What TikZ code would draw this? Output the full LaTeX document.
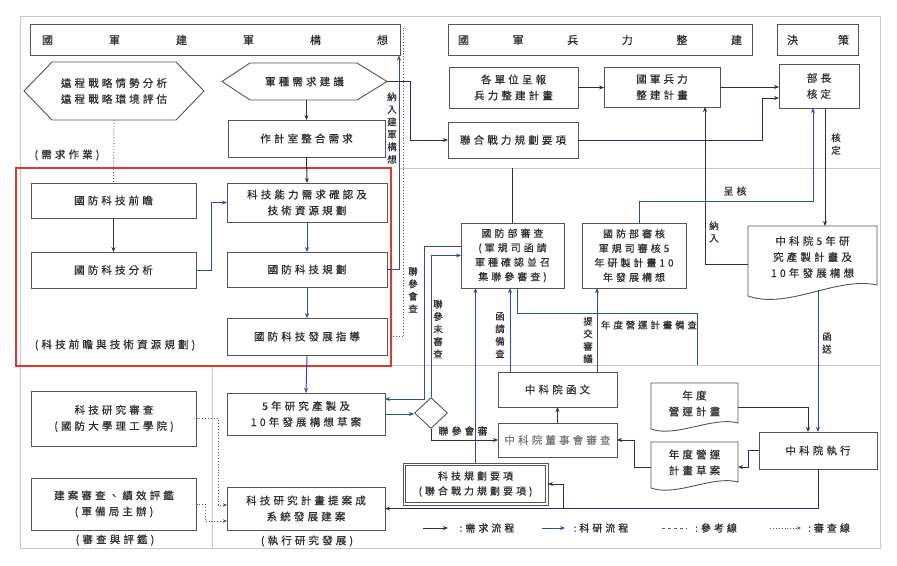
\documentclass[tikz,border=0pt]{standalone}
\usepackage{fontspec}
\newfontfamily\cjk[LetterSpace=30,FakeBold=0.6]{Noto Sans CJK TC}
\newfontfamily\cjkn[FakeBold=0.6]{Noto Sans CJK TC}
\usetikzlibrary{arrows.meta,shapes.geometric,calc}
\definecolor{ink}{HTML}{303030}
\definecolor{bx}{HTML}{555555}
\definecolor{nv}{HTML}{2B3148}
\definecolor{bl}{HTML}{2F4C94}
\definecolor{rd}{HTML}{E2372D}
\definecolor{fr}{HTML}{C8C8C8}
\tikzset{
  txt/.style={font=\fontsize{10.5}{16}\selectfont\cjk, text=ink, align=center, inner sep=0pt, outer sep=0pt},
  box/.style={txt, draw=bx, line width=0.9pt, fill=white},
  shp/.style={txt},
  shpline/.style={draw=bx, line width=0.9pt},
  vlab/.style={font=\fontsize{9.5}{12.5}\selectfont\cjkn, text=ink, align=center, inner sep=0pt},
  lab/.style={txt},
  hdr/.style={box, font=\fontsize{11}{14}\selectfont\cjkn, minimum height=31pt},
  fl/.style={draw=nv, line width=1pt, -{Stealth[length=5pt,width=4pt]}},
  fb/.style={draw=bl, line width=1pt, -{Stealth[length=5pt,width=4pt]}},
  ln/.style={draw=nv, line width=1pt},
  lb/.style={draw=bl, line width=1pt},
  rv/.style={draw=nv!80, line width=0.9pt, dotted, -{Stealth[length=4pt,width=3.5pt]}},
  rf/.style={draw=nv!80, line width=0.9pt, dotted},
  divl/.style={draw=fr, line width=0.7pt},
}
\begin{document}
\begin{tikzpicture}[x=1pt,y=-1pt]
\useasboundingbox (0,0) rectangle (897,565);
\fill[white] (0,0) rectangle (897,565);
% frame and dividers
\draw[divl] (20,16) rectangle (880,548);
\draw[divl] (400,168) -- (880,168);
\draw[divl] (20,365) -- (880,365);
\draw[divl] (212,367) -- (212,548);
\draw[rd, line width=2pt] (16,168) rectangle (391,366);

% headers
\node[hdr, minimum width=370pt, text width=346pt] (h1) at (215,40) {國\hfill 軍\hfill 建\hfill 軍\hfill 構\hfill 想};
\node[hdr, minimum width=304pt, text width=284pt] (h2) at (600,40) {國\hfill 軍\hfill 兵\hfill 力\hfill 整\hfill 建};
\node[hdr, minimum width=81pt, text width=62pt] (h3) at (818,40) {決\hfill 策};

% left column nodes
\node[shp, minimum width=180pt, minimum height=58pt] (hex1) at (114,91) {遠程戰略情勢分析\\遠程戰略環境評估};
\draw[shpline] (hex1.west) -- ($(hex1.north west)+(28,0)$) -- ($(hex1.north east)+(-28,0)$) -- (hex1.east) -- ($(hex1.south east)+(-28,0)$) -- ($(hex1.south west)+(28,0)$) -- cycle;
\node[shp, minimum width=165pt, minimum height=37pt] (hex2) at (304.5,81.5) {軍種需求建議};
\draw[shpline] (hex2.west) -- ($(hex2.north west)+(28,0)$) -- ($(hex2.north east)+(-30,0)$) -- (hex2.east) -- ($(hex2.south east)+(-30,0)$) -- ($(hex2.south west)+(28,0)$) -- cycle;
\node[box, minimum width=157pt, minimum height=37pt] (zuoji) at (306.5,138.5) {作計室整合需求};
\node[box, minimum width=165pt, minimum height=35pt] (qianzhan) at (113.5,200.5) {國防科技前瞻};
\node[box, minimum width=165pt, minimum height=36pt] (fenxi) at (113.5,270) {國防科技分析};
\node[box, minimum width=160pt, minimum height=39pt] (nengli) at (307,202.5) {科技能力需求確認及\\技術資源規劃};
\node[box, minimum width=160pt, minimum height=35pt] (guihua) at (307,269.5) {國防科技規劃};
\node[box, minimum width=160pt, minimum height=37pt] (zhidao) at (307,336.5) {國防科技發展指導};
\node[box, minimum width=158pt, minimum height=42pt] (draft5) at (306,414) {5年研究產製及\\10年發展構想草案};
\node[box, minimum width=165pt, minimum height=55pt] (kyjs) at (114,418.5) {科技研究審查\\(國防大學理工學院)};
\node[box, minimum width=165pt, minimum height=52pt] (jianan) at (114,504) {建案審查、績效評鑑\\(軍備局主辦)};
\node[box, minimum width=158pt, minimum height=43pt] (jihua) at (306,508.5) {科技研究計畫提案成\\系統發展建案};

% right part nodes
\node[box, minimum width=129pt, minimum height=41pt] (geding) at (513.5,87.5) {各單位呈報\\兵力整建計畫};
\node[box, minimum width=116pt, minimum height=40pt] (bingli) at (662,87) {國軍兵力\\整建計畫};
\node[box, minimum width=80pt, minimum height=44pt] (buzhang) at (819,86) {部長\\核定};
\node[box, minimum width=130pt, minimum height=36pt] (lianhe) at (513,140) {聯合戰力規劃要項};
\node[box, minimum width=103pt, minimum height=65pt, font=\fontsize{10}{14.5}\selectfont\cjk] (shencha) at (512.5,255.5) {國防部審查\\(軍規司函請\\軍種確認並召\\集聯參審查)};
\node[box, minimum width=104pt, minimum height=65pt, font=\fontsize{10}{14.5}\selectfont\cjk] (shenhe) at (634,255.5) {國防部審核\\軍規司審核5\\年研製計畫10\\年發展構想};
\node[shp, minimum width=129pt, minimum height=62pt] (zky5) at (812.5,257) {中科院5年研\\究產製計畫及\\10年發展構想};
\draw[shpline] (zky5.north west) -- (zky5.north east) -- ($(zky5.south east)+(0,-3)$) .. controls ($(zky5.south east)+(-40,-12)$) and ($(zky5.south west)+(40,22)$) .. ($(zky5.south west)+(0,8)$) -- cycle;
\node[box, minimum width=119pt, minimum height=35pt] (hanwen) at (557.5,389.5) {中科院函文};
\node[box, minimum width=119pt, minimum height=34pt, text=ink!65] (dongshi) at (557.5,440) {中科院董事會審查};
\node[shp, minimum width=87pt, minimum height=41pt] (yingyun) at (694.5,403.5) {年度\\營運計畫};
\draw[shpline] (yingyun.north west) -- (yingyun.north east) -- ($(yingyun.south east)+(0,-1)$) .. controls ($(yingyun.south east)+(-25,-8)$) and ($(yingyun.south west)+(25,14)$) .. ($(yingyun.south west)+(0,5)$) -- cycle;
\node[shp, minimum width=87pt, minimum height=41pt] (caoan) at (694.5,462.5) {年度營運\\計畫草案};
\draw[shpline] (caoan.north west) -- (caoan.north east) -- ($(caoan.south east)+(0,-1)$) .. controls ($(caoan.south east)+(-25,-8)$) and ($(caoan.south west)+(25,14)$) .. ($(caoan.south west)+(0,5)$) -- cycle;
\node[box, minimum width=118pt, minimum height=37pt] (zhixing) at (818,450.5) {中科院執行};
\node[box, minimum width=145pt, minimum height=42pt, font=\fontsize{10}{15}\selectfont\cjk] (kjyx) at (475.5,484) {科技規劃要項\\(聯合戰力規劃要項)};
\draw[shpline, line width=0.7pt] ($(kjyx.north west)+(2.5,2.5)$) rectangle ($(kjyx.south east)+(-2.5,-2.5)$);
\node[diamond, draw=bx, line width=0.9pt, fill=white, minimum width=33pt, minimum height=31pt, inner sep=0pt] (dia) at (431,413) {};

% labels
\node[lab] (lxq) at (67,155) {(需求作業)};
\node[lab] (lqz) at (115,345) {(科技前瞻與技術資源規劃)};
\node[lab] (lsp) at (115,540) {(審查與評鑑)};
\node[lab] (lzx) at (307,541) {(執行研究發展)};
\node[vlab] (v1) at (392,128) {納\\入\\建\\軍\\構\\想};
\node[vlab] (v2) at (413,290) {聯\\參\\會\\查};
\node[vlab] (v3) at (438,329) {聯\\參\\未\\審\\查};
\node[vlab] (v4) at (500,335) {函\\請\\備\\查};
\node[vlab] (v5) at (588,340) {提\\交\\審\\議};
\node[vlab] (v6) at (714,232) {納\\入};
\node[vlab] (v7) at (836,144) {核\\定};
\node[vlab] (v8) at (827,343) {函\\送};
\node[lab, font=\fontsize{10}{12}\selectfont\cjk] (l1) at (735,191) {呈核};
\node[lab, font=\fontsize{9.5}{12}\selectfont\cjk] (l2) at (649,325) {年度營運計畫備查};
\node[lab, font=\fontsize{10}{12}\selectfont\cjk] (l3) at (463,431) {聯參會審};

% connectors: top left
\draw[fl] (zuoji.north |- hex2.south) -- (zuoji.north);
\draw[fl] (zuoji.south) -- (nengli.north);
\draw[fb] (nengli.south) -- (guihua.north);
\draw[fb] (guihua.south) -- (zhidao.north);
\draw[fb] (zhidao.south) -- (draft5.north);
\draw[fl] (qianzhan.south) -- (fenxi.north);
\draw[fb] (fenxi.east) -- ++(15,0) |- (nengli.west);
\draw[rf] (hex1.south) -- (qianzhan.north);
\draw[fb] (guihua.east) -| ([xshift=-1pt]h1.south east);
\coordinate (dtop) at (403.5,28);
\draw[rf] (zhidao.east) -| (dtop);
\draw[fl] (hex2.east) -- ++(23,0) |- (lianhe.west);

% top right
\draw[fl] (geding.east) -- (geding.east -| bingli.west);
\draw[fl] (bingli.east) -- (bingli.east -| buzhang.west);
\draw[fl] (lianhe.east) -| (762,98) -- ([yshift=-12pt]buzhang.west);
\draw[fl] ([yshift=-7pt]zky5.west) -| ([xshift=43pt]bingli.south);
\draw[fb] ([xshift=5pt]shenhe.north) |- (813,201) -- ([xshift=-6pt]buzhang.south);
\draw[fl] ([xshift=6pt]buzhang.south) -- ++(0,118);
\coordinate (divtop) at (512.5,168);
\draw[ln] (divtop) -- (shencha.north);

% middle
\draw[fb] ([yshift=9.5pt]shencha.west) -| (424,399) -- ([yshift=15pt]draft5.east);
\draw[fb] (dia.north) |- (shencha.west);
\draw[fb] (draft5.east) -- (draft5.east -| dia.west);
\draw[fl] (dia.south) |- (dongshi.west);
\draw[fb] (kjyx.north) -- (kjyx.north |- shencha.south);
\draw[fb] ([xshift=-47.5pt]hanwen.north) -- ++(0,-84);
\draw[fb] ([xshift=39.5pt]hanwen.north) -- ++(0,-84);
\coordinate (yyend) at (697,365);
\draw[lb] ([xshift=4.5pt]shencha.south) -- ++(0,25) -| (yyend);
\draw[fl] (dongshi.north) -- (hanwen.south);
\draw[fl] ([yshift=-3.5pt]yingyun.east) -| ([xshift=-10pt]zhixing.north);
\draw[fb] ([xshift=5.5pt,yshift=-2pt]zky5.south) -- (zhixing.north);
\draw[fl] (zhixing.west) -| (748,467) -- ([yshift=-4.5pt]caoan.east);
\draw[fl] ([yshift=-4.5pt]caoan.west) -| (634,440) -- (dongshi.east);
\draw[fl] (zhixing.south) |- (jihua.east);
\coordinate (br) at (563,508.5);
\draw[fl] (br) |- (kjyx.east);
\draw[rv] (kyjs.east) -| (218,505) -- ([yshift=3.5pt]jihua.west);
\draw[rv] (jianan.east) -| (205,521) -- ([yshift=-12.5pt]jihua.west);

% legend
\coordinate (g1a) at (423,528); \coordinate (g1b) at (448,528);
\draw[fl] (g1a) -- (g1b);
\node[lab, font=\fontsize{10}{12}\selectfont\cjk] (g1t) at (487,528) {:需求流程};
\coordinate (g2a) at (542,528); \coordinate (g2b) at (565,528);
\draw[fb] (g2a) -- (g2b);
\node[lab, font=\fontsize{10}{12}\selectfont\cjk] (g2t) at (601,528) {:科研流程};
\coordinate (g3a) at (662,528); \coordinate (g3b) at (687,528);
\draw[draw=nv!80, line width=0.9pt, dashed] (g3a) -- (g3b);
\node[lab, font=\fontsize{10}{12}\selectfont\cjk] (g3t) at (716,528) {:參考線};
\coordinate (g4a) at (770,528); \coordinate (g4b) at (801,528);
\draw[rv] (g4a) -- (g4b);
\node[lab, font=\fontsize{10}{12}\selectfont\cjk] (g4t) at (829,528) {:審查線};
\end{tikzpicture}
\end{document}
